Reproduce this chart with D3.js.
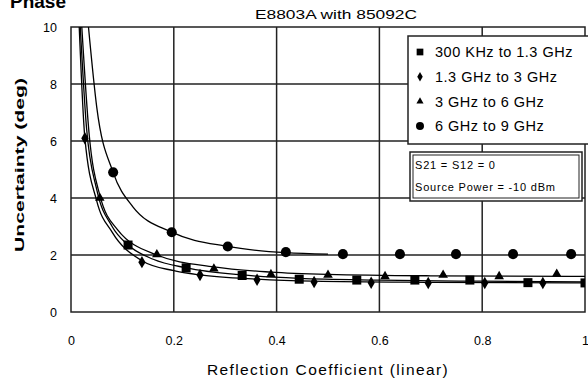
<!DOCTYPE html>
<html>
<head>
<meta charset="utf-8">
<script src="https://cdn.jsdelivr.net/npm/d3@7"></script>
<style>
  body { margin: 0; background: #fff; }
  text { font-family: "Liberation Sans", Arial, sans-serif; fill: #000; }
</style>
</head>
<body>
<div id="chart"></div>
<script>
// marker positions
var squareX = [0.111, 0.224, 0.333, 0.444, 0.556, 0.669, 0.776, 0.889, 1.0]
var squareY = [2.35, 1.55, 1.28, 1.15, 1.12, 1.12, 1.12, 1.03, 1.02]
var diamondX = [0.027, 0.138, 0.251, 0.362, 0.473, 0.584, 0.695, 0.805, 0.918]
var diamondY = [6.1, 1.75, 1.3, 1.13, 1.05, 1.03, 1.02, 1.02, 1.02]
var triangleX = [0.056, 0.167, 0.278, 0.389, 0.5, 0.611, 0.724, 0.833, 0.945]
var triangleY = [4.0, 2.02, 1.52, 1.32, 1.3, 1.25, 1.3, 1.25, 1.33]
var circleX = [0.082, 0.196, 0.305, 0.418, 0.529, 0.64, 0.749, 0.86, 0.973]
var circleY = [4.9, 2.8, 2.3, 2.1, 2.03, 2.03, 2.03, 2.03, 2.03]

// trend lines
var squareFitX = [0.018, 0.03, 0.05, 0.08, 0.111, 0.16, 0.224, 0.333, 0.444, 0.6, 0.8, 1.0]
var squareFitY = [10, 6.5, 4.3, 3.0, 2.35, 1.85, 1.55, 1.3, 1.18, 1.12, 1.08, 1.06]
var diamondFitX = [0.016, 0.027, 0.05, 0.08, 0.138, 0.2, 0.251, 0.362, 0.473, 0.7, 1.0]
var diamondFitY = [10, 6.1, 3.9, 2.8, 1.8, 1.45, 1.3, 1.15, 1.08, 1.04, 1.02]
var triangleFitX = [0.021, 0.035, 0.056, 0.09, 0.167, 0.278, 0.389, 0.5, 0.7, 1.0]
var triangleFitY = [10, 6.3, 4.1, 2.9, 2.0, 1.58, 1.4, 1.32, 1.27, 1.25]
var circleFitX = [0.034, 0.05, 0.082, 0.12, 0.196, 0.305, 0.418, 0.5]
var circleFitY = [10, 7.2, 4.9, 3.7, 2.8, 2.3, 2.08, 2.03]

var xTicks = [0, 0.2, 0.4, 0.6, 0.8, 1]
var xTickLabels = ["0", "0.2", "0.4", "0.6", "0.8", "1"]
var yTicks = [0, 2, 4, 6, 8, 10]
var legendLabels = ["300 KHz to 1.3 GHz", "1.3 GHz to 3 GHz", "3 GHz to 6 GHz", "6 GHz to 9 GHz"]

var width = 588
var height = 381
var plot = {left: 71, right: 585, top: 27, bottom: 312}

var svg = d3.select("#chart")
    .append("svg")
        .attr("width", width)
        .attr("height", height)

var x = d3.scaleLinear().domain([0, 1]).range([plot.left, plot.right])
var y = d3.scaleLinear().domain([0, 10]).range([plot.bottom, plot.top])

svg.append("defs").append("clipPath")
    .attr("id", "plot-clip")
    .append("rect")
        .attr("x", plot.left)
        .attr("y", plot.top)
        .attr("width", plot.right - plot.left)
        .attr("height", plot.bottom - plot.top)

// grid
var grid = svg.append("g")
grid.selectAll(".vgrid")
    .data(xTicks.slice(1, -1))
    .enter().append("line")
        .attr("x1", d => x(d)).attr("x2", d => x(d))
        .attr("y1", plot.top).attr("y2", plot.bottom)
        .attr("stroke", "#222").attr("stroke-width", 1.5)
grid.selectAll(".hgrid")
    .data(yTicks.slice(1, -1))
    .enter().append("line")
        .attr("x1", plot.left).attr("x2", plot.right)
        .attr("y1", d => y(d)).attr("y2", d => y(d))
        .attr("stroke", "#222").attr("stroke-width", 1.5)
grid.append("rect")
    .attr("x", plot.left).attr("y", plot.top)
    .attr("width", plot.right - plot.left)
    .attr("height", plot.bottom - plot.top)
    .attr("fill", "none")
    .attr("stroke", "#222").attr("stroke-width", 1.5)

// axes (labels only, grid drawn above)
var x_axis = d3.axisBottom(x).tickValues(xTicks).tickSize(0).tickPadding(24)
    .tickFormat((d, i) => xTickLabels[i])
var y_axis = d3.axisLeft(y).tickValues(yTicks).tickSize(0).tickPadding(14)

var xAxisCall = svg.append("g")
    .attr("transform", "translate(0," + plot.bottom + ")")
    .call(x_axis)
var yAxisCall = svg.append("g")
    .attr("transform", "translate(" + plot.left + ",0)")
    .call(y_axis)
svg.selectAll(".domain").remove()
svg.selectAll(".tick text")
    .style("font-family", "'Liberation Sans', Arial, sans-serif")
    .style("font-size", "12.5px")
    .attr("fill", "#000")

// titles
svg.append("text")
    .attr("x", 10).attr("y", 8)
    .style("font-size", "19px").style("font-weight", "bold")
    .text("Phase")

svg.append("text")
    .attr("x", 336).attr("y", 19)
    .attr("text-anchor", "middle")
    .attr("textLength", 162).attr("lengthAdjust", "spacingAndGlyphs")
    .style("font-size", "12px")
    .text("E8803A with 85092C")

svg.append("text")
    .attr("x", 328).attr("y", 375)
    .attr("text-anchor", "middle")
    .style("font-size", "15.5px")
    .style("letter-spacing", "1.4px")
    .text("Reflection Coefficient (linear)")

svg.append("text")
    .attr("transform", "rotate(-90)")
    .attr("x", -165).attr("y", 24)
    .attr("text-anchor", "middle")
    .attr("textLength", 174).attr("lengthAdjust", "spacingAndGlyphs")
    .style("font-size", "12px").style("font-weight", "bold")
    .text("Uncertainty (deg)")

// series
var series = [
    {xs: squareX, ys: squareY, fx: squareFitX, fy: squareFitY, sym: d3.symbolSquare, size: 81, legSize: 45},
    {xs: diamondX, ys: diamondY, fx: diamondFitX, fy: diamondFitY, sym: d3.symbolDiamond, size: 45, legSize: 26},
    {xs: triangleX, ys: triangleY, fx: triangleFitX, fy: triangleFitY, sym: d3.symbolTriangle, size: 40, legSize: 22},
    {xs: circleX, ys: circleY, fx: circleFitX, fy: circleFitY, sym: d3.symbolCircle, size: 80, legSize: 50}
]

var chart = svg.append("g").attr("clip-path", "url(#plot-clip)")

var line = d3.line()
    .x(d => x(d[0]))
    .y(d => y(d[1]))
    .curve(d3.curveMonotoneX)

series.forEach(function(s){
    chart.append("path")
        .datum(d3.zip(s.fx, s.fy))
        .attr("d", line)
        .attr("fill", "none")
        .attr("stroke", "#000")
        .attr("stroke-width", 1.3)
})

series.forEach(function(s){
    chart.selectAll(null)
        .data(d3.zip(s.xs, s.ys))
        .enter().append("path")
            .attr("transform", d => "translate(" + x(d[0]) + "," + y(d[1]) + ")")
            .attr("d", d3.symbol().type(s.sym).size(s.size))
            .attr("fill", "#000")
})

// legend
var legendGroup = svg.append("g")
legendGroup.append("rect")
    .attr("x", 408).attr("y", 36)
    .attr("width", 190).attr("height", 108)
    .attr("fill", "#fff")
    .attr("stroke", "#222").attr("stroke-width", 1.5)

var legRows = legendGroup.selectAll(".leg")
    .data(series)
    .enter().append("g")
        .attr("transform", (d, i) => "translate(420," + (52 + i * 24.7) + ")")
legRows.append("path")
    .attr("d", d => d3.symbol().type(d.sym).size(d.legSize)())
    .attr("fill", "#000")
legRows.append("text")
    .attr("x", 15)
    .attr("dy", "0.36em")
    .style("font-size", "14.5px")
    .style("letter-spacing", "0.5px")
    .text((d, i) => legendLabels[i])

// note box
var note = svg.append("g")
note.append("rect")
    .attr("x", 410).attr("y", 152)
    .attr("width", 172).attr("height", 49)
    .attr("fill", "#fff")
    .attr("stroke", "#222").attr("stroke-width", 1.5)
note.append("rect")
    .attr("x", 413).attr("y", 155)
    .attr("width", 166).attr("height", 43)
    .attr("fill", "none")
    .attr("stroke", "#222").attr("stroke-width", 1)
note.append("text")
    .attr("x", 415).attr("y", 169)
    .style("font-size", "11px")
    .style("letter-spacing", "0.8px")
    .text("S21 = S12 = 0")
note.append("text")
    .attr("x", 415).attr("y", 191)
    .style("font-size", "11px")
    .style("letter-spacing", "0.8px")
    .text("Source Power = -10 dBm")
</script>
</body>
</html>
